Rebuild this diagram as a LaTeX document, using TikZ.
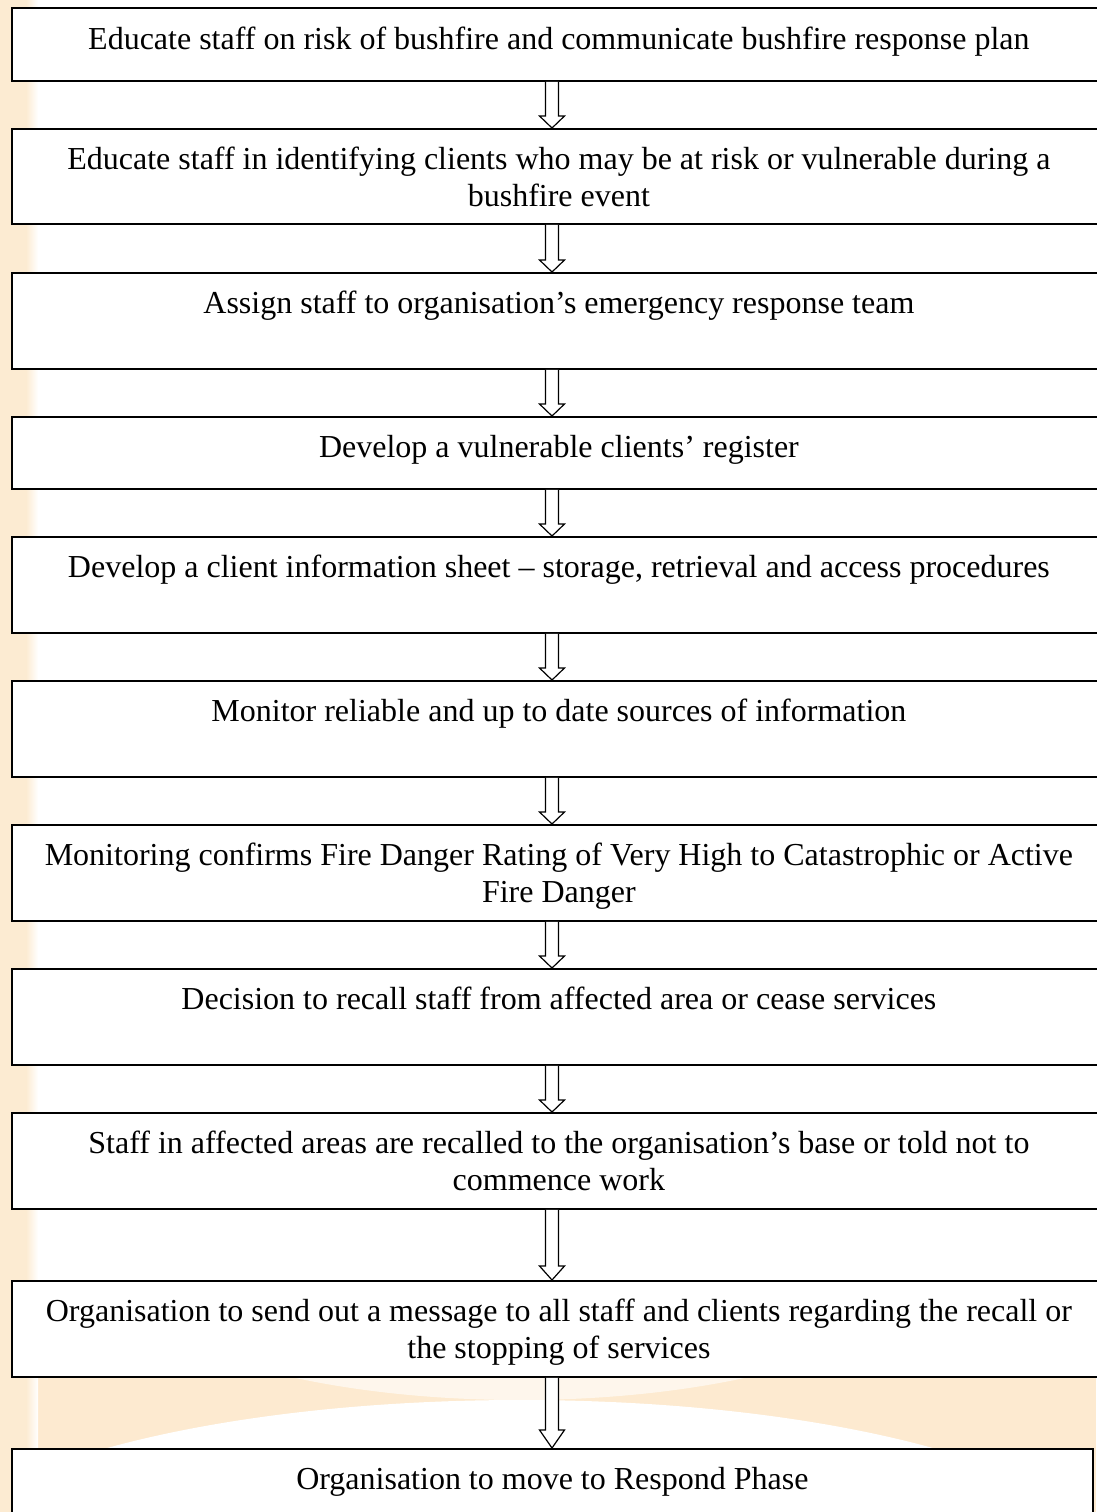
\documentclass[tikz,border=0pt]{standalone}
\usepackage{fontspec}
\setmainfont{Liberation Serif}
\usetikzlibrary{calc}
\definecolor{peach}{HTML}{FCEBD2}
\definecolor{bandor}{HTML}{FDEAD0}
\tikzset{
  stepbox/.style={draw=black, line width=1.8pt, fill=white, inner sep=0pt, anchor=north west},
  txt/.style={font=\fontsize{32}{36.8}\selectfont, align=center, inner sep=0pt, anchor=north},
  hollow/.style={draw=black, line width=1.2pt, fill=white, line join=miter}
}
\newcommand{\flowarrow}[3]{%
  \coordinate (ta) at (#1.south -| axis);
  \coordinate (tb) at (#2.north -| axis);
  \draw[hollow] ($(ta)+(-6.5,0)$) -- ($(tb)+(-6.5,-#3)$) -- ($(tb)+(-12.5,-#3)$) -- (tb)
     -- ($(tb)+(12.5,-#3)$) -- ($(tb)+(6.5,-#3)$) -- ($(ta)+(6.5,0)$);
}
\begin{document}
\begin{tikzpicture}[x=1pt,y=-1pt]
\useasboundingbox (0,0) rectangle (1096,1512);
\coordinate (axis) at (552,0);
% background
\fill[white] (0,0) rectangle (1096,1512);
\fill[bandor] (0,1376) rectangle (1096,1512);
\fill[white] (520,1575) ellipse [x radius=600, y radius=175];
\fill[white, opacity=0.6] (520,1250) ellipse [x radius=430, y radius=150];
\fill[peach] (0,0) rectangle (26,1512);
\shade[left color=peach, right color=white] (26,0) rectangle (38,1512);
% boxes
\node[stepbox, minimum width=1094, minimum height=73] (b1) at (11,7) {};
\node[stepbox, minimum width=1094, minimum height=95] (b2) at (11,128) {};
\node[stepbox, minimum width=1094, minimum height=96] (b3) at (11,272) {};
\node[stepbox, minimum width=1094, minimum height=72] (b4) at (11,416) {};
\node[stepbox, minimum width=1094, minimum height=96] (b5) at (11,536) {};
\node[stepbox, minimum width=1094, minimum height=96] (b6) at (11,680) {};
\node[stepbox, minimum width=1094, minimum height=96] (b7) at (11,824) {};
\node[stepbox, minimum width=1094, minimum height=96] (b8) at (11,968) {};
\node[stepbox, minimum width=1094, minimum height=96] (b9) at (11,1112) {};
\node[stepbox, minimum width=1094, minimum height=96] (b10) at (11,1280) {};
\node[stepbox, minimum width=1081, minimum height=80] (b11) at (11,1448) {};
% texts
\node[txt] (t1) at ($(b1.north)+(0,20)$) {Educate staff on risk of bushfire and communicate bushfire response plan};
\node[txt] (t2) at ($(b2.north)+(0,19)$) {Educate staff in identifying clients who may be at risk or vulnerable during a\\bushfire event};
\node[txt] (t3) at ($(b3.north)+(0,19)$) {Assign staff to organisation’s emergency response team};
\node[txt] (t4) at ($(b4.north)+(0,19)$) {Develop a vulnerable clients’ register};
\node[txt] (t5) at ($(b5.north)+(0,19)$) {Develop a client information sheet – storage, retrieval and access procedures};
\node[txt] (t6) at ($(b6.north)+(0,19)$) {Monitor reliable and up to date sources of information};
\node[txt] (t7) at ($(b7.north)+(0,19)$) {Monitoring confirms Fire Danger Rating of Very High to Catastrophic or Active\\Fire Danger};
\node[txt] (t8) at ($(b8.north)+(0,19)$) {Decision to recall staff from affected area or cease services};
\node[txt] (t9) at ($(b9.north)+(0,19)$) {Staff in affected areas are recalled to the organisation’s base or told not to\\commence work};
\node[txt] (t10) at ($(b10.north)+(0,19)$) {Organisation to send out a message to all staff and clients regarding the recall or\\the stopping of services};
\node[txt] (t11) at ($(b11.north)+(0,19)$) {Organisation to move to Respond Phase};
% arrows
\flowarrow{b1}{b2}{12}
\flowarrow{b2}{b3}{12}
\flowarrow{b3}{b4}{12}
\flowarrow{b4}{b5}{12}
\flowarrow{b5}{b6}{12}
\flowarrow{b6}{b7}{12}
\flowarrow{b7}{b8}{12}
\flowarrow{b8}{b9}{12}
\flowarrow{b9}{b10}{14}
\flowarrow{b10}{b11}{18}
\end{tikzpicture}
\end{document}
